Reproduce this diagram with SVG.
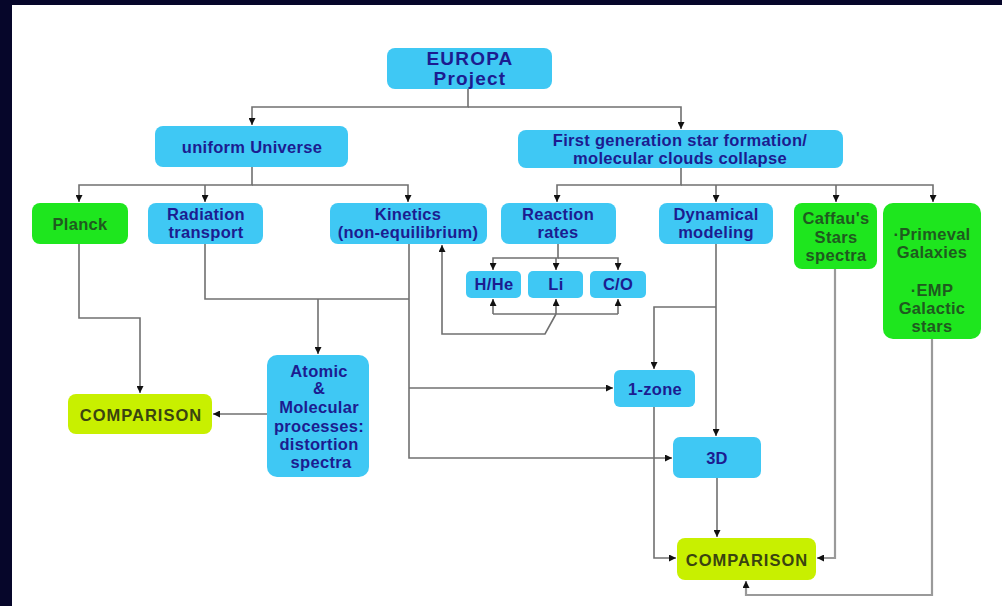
<svg xmlns="http://www.w3.org/2000/svg" width="1002" height="606" viewBox="0 0 1002 606">
  <style>
    .box { stroke: none; }
    .blue { fill: #3fc8f4; }
    .green { fill: #1ee61e; }
    .lime { fill: #c8f000; }
    text { font-family: "Liberation Sans", Arial, sans-serif; font-weight: bold; font-size: 16.5px; letter-spacing: 0.3px; text-anchor: middle; }
    .tb { fill: #1c1c90; }
    .tg { fill: #1f5a1f; }
    .tl { fill: #3a4410; letter-spacing: 1px; }
    .big { font-size: 19px; letter-spacing: 1.2px; }
    .link { fill: none; stroke: #707070; stroke-width: 1.6; }
    .light { stroke: #9a9a9a; stroke-width: 2.2; }
  </style>
  <defs>
    <marker id="arrow" markerWidth="7" markerHeight="7" refX="7" refY="3.5" orient="auto" markerUnits="userSpaceOnUse">
      <path d="M0,0 L7,3.5 L0,7 z" fill="#111"/>
    </marker>
  </defs>

  <!-- frame -->
  <rect x="0" y="0" width="1002" height="606" fill="#06062a"/>
  <rect x="12" y="5" width="990" height="601" fill="#ffffff"/>

  <!-- connectors -->
  <g id="connectors">
    <path class="link" d="M468 89 V107 H252 V125" marker-end="url(#arrow)"/>
    <path class="link" d="M468 107 H681 V129" marker-end="url(#arrow)"/>

    <path class="link" d="M252 167 V185 H79 V202" marker-end="url(#arrow)"/>
    <path class="link" d="M205 185 V202" marker-end="url(#arrow)"/>
    <path class="link" d="M252 185 H408 V202" marker-end="url(#arrow)"/>

    <path class="link" d="M681 168 V185 H557 V202" marker-end="url(#arrow)"/>
    <path class="link" d="M681 185 H933 V202" marker-end="url(#arrow)"/>
    <path class="link" d="M716 185 V202" marker-end="url(#arrow)"/>
    <path class="link" d="M836 185 V202" marker-end="url(#arrow)"/>

    <path class="link" d="M558 244 V258 H493 V270" marker-end="url(#arrow)"/>
    <path class="link" d="M558 258 H618 V270" marker-end="url(#arrow)"/>
    <path class="link" d="M556 258 V270" marker-end="url(#arrow)"/>

    <path class="link" d="M493 314 H618"/>
    <path class="link" d="M493 314 V299" marker-end="url(#arrow)"/>
    <path class="link" d="M618 314 V299" marker-end="url(#arrow)"/>
    <path class="link" d="M556 314 V299" marker-end="url(#arrow)"/>
    <path class="link" d="M556 314 L545 334 H442 V245" marker-end="url(#arrow)"/>

    <path class="link" d="M79 244 V318 H140 V393" marker-end="url(#arrow)"/>

    <path class="link" d="M205 244 V299 H409"/>
    <path class="link" d="M318 299 V354" marker-end="url(#arrow)"/>
    <path class="link" d="M409 244 V458 H672" marker-end="url(#arrow)"/>
    <path class="link" d="M409 388 H613" marker-end="url(#arrow)"/>

    <path class="link" d="M267 414 H213" marker-end="url(#arrow)"/>

    <path class="link" d="M716 244 V436" marker-end="url(#arrow)"/>
    <path class="link" d="M716 307 H654 V369" marker-end="url(#arrow)"/>

    <path class="link" d="M654 407 V558 H676" marker-end="url(#arrow)"/>
    <path class="link" d="M717 478 V537" marker-end="url(#arrow)"/>

    <path class="link light" d="M835 269 V558 H817" marker-end="url(#arrow)"/>
    <path class="link light" d="M932 339 V595 H746 V581" marker-end="url(#arrow)"/>
  </g>

  <!-- nodes -->
  <g id="europa">
    <rect class="box blue" x="387" y="48" width="165" height="41" rx="8"/>
    <text class="tb big" x="470" y="65">EUROPA</text>
    <text class="tb big" x="470" y="85">Project</text>
  </g>

  <g id="uniform-universe">
    <rect class="box blue" x="155" y="126" width="193" height="41" rx="8"/>
    <text class="tb" x="252" y="153">uniform Universe</text>
  </g>

  <g id="first-generation">
    <rect class="box blue" x="518" y="130" width="325" height="38" rx="8"/>
    <text class="tb" x="680" y="146">First generation star formation/</text>
    <text class="tb" x="680" y="164">molecular clouds collapse</text>
  </g>

  <g id="planck">
    <rect class="box green" x="32" y="203" width="96" height="41" rx="8"/>
    <text class="tg" x="80" y="230">Planck</text>
  </g>

  <g id="radiation-transport">
    <rect class="box blue" x="148" y="203" width="115" height="41" rx="8"/>
    <text class="tb" x="206" y="220">Radiation</text>
    <text class="tb" x="206" y="238">transport</text>
  </g>

  <g id="kinetics">
    <rect class="box blue" x="330" y="203" width="157" height="41" rx="8"/>
    <text class="tb" x="408" y="220">Kinetics</text>
    <text class="tb" x="408" y="238">(non-equilibrium)</text>
  </g>

  <g id="reaction-rates">
    <rect class="box blue" x="501" y="203" width="115" height="41" rx="8"/>
    <text class="tb" x="558" y="220">Reaction</text>
    <text class="tb" x="558" y="238">rates</text>
  </g>

  <g id="dynamical-modeling">
    <rect class="box blue" x="659" y="203" width="114" height="41" rx="8"/>
    <text class="tb" x="716" y="220">Dynamical</text>
    <text class="tb" x="716" y="238">modeling</text>
  </g>

  <g id="caffau">
    <rect class="box green" x="794" y="203" width="83" height="66" rx="8"/>
    <text class="tg" x="836" y="224">Caffau's</text>
    <text class="tg" x="836" y="243">Stars</text>
    <text class="tg" x="836" y="261">spectra</text>
  </g>

  <g id="primeval">
    <rect class="box green" x="883" y="203" width="98" height="136" rx="10"/>
    <text class="tg" x="932" y="240">·Primeval</text>
    <text class="tg" x="932" y="258">Galaxies</text>
    <text class="tg" x="932" y="296">·EMP</text>
    <text class="tg" x="932" y="314">Galactic</text>
    <text class="tg" x="932" y="332">stars</text>
  </g>

  <g id="h-he">
    <rect class="box blue" x="466" y="271" width="55" height="27" rx="5"/>
    <text class="tb" x="494" y="290">H/He</text>
  </g>

  <g id="li">
    <rect class="box blue" x="528" y="271" width="55" height="27" rx="5"/>
    <text class="tb" x="556" y="290">Li</text>
  </g>

  <g id="c-o">
    <rect class="box blue" x="590" y="271" width="56" height="27" rx="5"/>
    <text class="tb" x="618" y="290">C/O</text>
  </g>

  <g id="atomic-molecular">
    <rect class="box blue" x="267" y="355" width="102" height="122" rx="10"/>
    <text class="tb" x="319" y="377">Atomic</text>
    <text class="tb" x="319" y="394">&amp;</text>
    <text class="tb" x="319" y="413">Molecular</text>
    <text class="tb" x="319" y="432">processes:</text>
    <text class="tb" x="319" y="450">distortion</text>
    <text class="tb" x="321" y="468">spectra</text>
  </g>

  <g id="comparison-left">
    <rect class="box lime" x="68" y="394" width="144" height="40" rx="8"/>
    <text class="tl" x="141" y="421">COMPARISON</text>
  </g>

  <g id="one-zone">
    <rect class="box blue" x="614" y="370" width="81" height="37" rx="6"/>
    <text class="tb" x="655" y="395">1-zone</text>
  </g>

  <g id="three-d">
    <rect class="box blue" x="673" y="437" width="88" height="41" rx="7"/>
    <text class="tb" x="717" y="464">3D</text>
  </g>

  <g id="comparison-right">
    <rect class="box lime" x="677" y="538" width="139" height="42" rx="8"/>
    <text class="tl" x="747" y="566">COMPARISON</text>
  </g>
</svg>
